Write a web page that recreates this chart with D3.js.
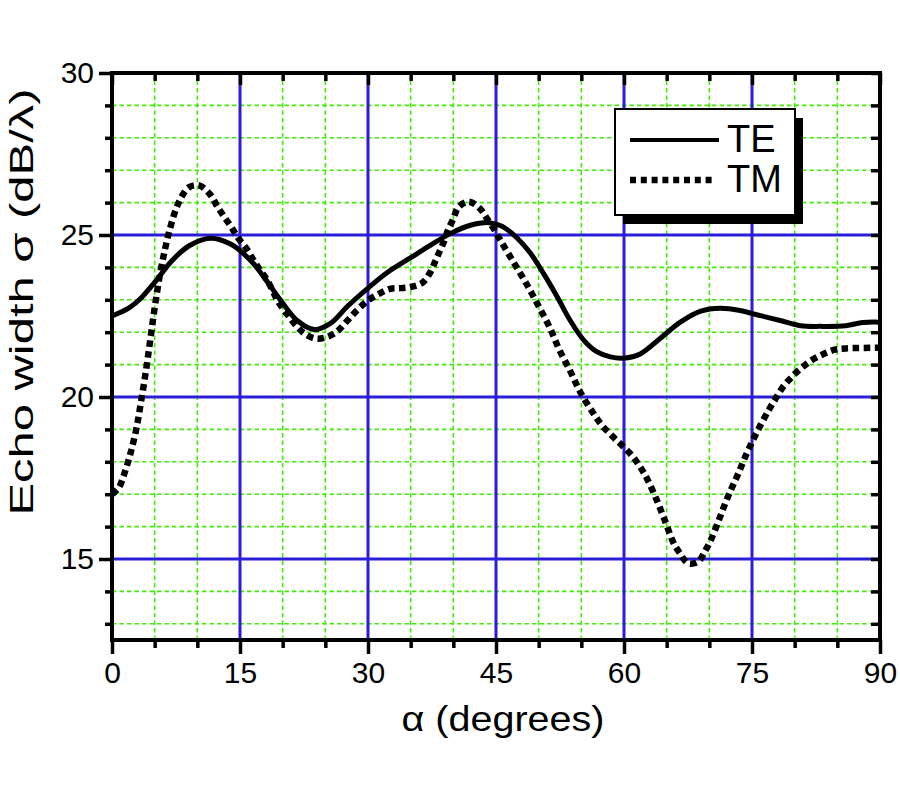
<!DOCTYPE html>
<html>
<head>
<meta charset="utf-8">
<script src="https://cdn.jsdelivr.net/npm/d3@7"></script>
<style>
  body { margin: 0; background: #fff; }
  text { font-family: "Liberation Sans", Arial, sans-serif; fill: #000; }
</style>
</head>
<body>
<div id="chart"></div>
<script>
// Data (alpha in degrees, sigma in dB/lambda)
const teAlpha = [0, 2, 3.2, 5, 7, 9, 11.5, 13.9, 16.3, 17.8, 19.8, 21.7, 23.7, 25.6, 27.6, 30, 32.3, 35, 37.3, 39.7, 42, 44.2, 45.7, 47.5, 49, 50.6, 52.2, 53.7, 55.3, 56.8, 58.4, 60, 61.9, 64.2, 66.6, 69, 71.3, 73.6, 76, 78.3, 80.7, 83, 86, 88, 90];
const teSigma = [22.5, 22.75, 23.0, 23.54, 24.2, 24.66, 24.9, 24.72, 24.2, 23.7, 22.97, 22.36, 22.08, 22.27, 22.8, 23.36, 23.85, 24.3, 24.68, 25.05, 25.3, 25.38, 25.27, 24.9, 24.45, 23.8, 23.08, 22.36, 21.75, 21.4, 21.24, 21.2, 21.33, 21.8, 22.31, 22.65, 22.74, 22.67, 22.51, 22.36, 22.2, 22.18, 22.2, 22.3, 22.31];

const tmAlpha = [0, 0.8, 1.4, 2.1, 2.8, 3.4, 4.0, 4.5, 5.0, 5.6, 6.2, 6.8, 7.5, 8.2, 9.0, 10.2, 11.5, 12.3, 13.1, 14.0, 14.8, 15.7, 16.5, 17.4, 18.2, 19.5, 20.4, 21.5, 22.6, 23.9, 25.2, 26.4, 27.6, 28.8, 30.1, 31.4, 32.6, 33.8, 35.1, 36.4, 37.3, 37.9, 38.4, 38.9, 39.4, 40, 40.6, 41.8, 43.1, 44, 44.8, 45.6, 47.1, 48.6, 50, 51.3, 52.4, 53.7, 54.9, 56.4, 57.4, 58.6, 59.8, 61, 61.9, 62.7, 63.8, 64.8, 65.8, 66.5, 67.5, 68.7, 69.5, 70.2, 71.2, 72.2, 73.3, 74.4, 75.6, 76.9, 77.7, 78.6, 79.6, 80.8, 82.2, 83.5, 84.7, 86, 90];
const tmSigma = [17.0, 17.2, 17.6, 18.2, 18.95, 19.85, 20.85, 21.8, 22.75, 23.75, 24.55, 25.2, 25.8, 26.2, 26.47, 26.53, 26.25, 25.9, 25.58, 25.24, 24.9, 24.6, 24.26, 23.9, 23.6, 22.93, 22.6, 22.23, 21.95, 21.8, 21.85, 22.03, 22.36, 22.7, 23.0, 23.2, 23.34, 23.36, 23.4, 23.53, 23.85, 24.2, 24.5, 24.8, 25.17, 25.5, 25.86, 26.03, 25.82, 25.48, 25.17, 24.8, 24.14, 23.48, 22.8, 22.14, 21.47, 20.8, 20.14, 19.5, 19.13, 18.8, 18.5, 18.17, 17.84, 17.48, 16.84, 16.18, 15.5, 15.2, 14.87, 14.92, 15.25, 15.6, 16.26, 16.94, 17.58, 18.27, 18.93, 19.57, 19.92, 20.3, 20.6, 20.9, 21.17, 21.34, 21.46, 21.5, 21.52];

const seriesNames = ["TE", "TM"];
const xMajorTicks = [0, 15, 30, 45, 60, 75, 90];
const yMajorTicks = [15, 20, 25, 30];

// SVG area and margins
const svgWidth = 900;
const svgHeight = 800;
const margin = { top: 73, right: 20, bottom: 160, left: 112 };
const chartWidth = svgWidth - margin.left - margin.right;
const chartHeight = svgHeight - margin.top - margin.bottom;

const gridGreen = "#44e80a";
const gridBlue = "#2a1fd6";

const svg = d3.select("#chart")
  .append("svg")
  .attr("width", svgWidth)
  .attr("height", svgHeight);

const chartGroup = svg.append("g")
  .attr("transform", `translate(${margin.left}, ${margin.top})`);

const xScale = d3.scaleLinear().domain([0, 90]).range([0, chartWidth]);
const yScale = d3.scaleLinear().domain([12.5, 30]).range([chartHeight, 0]);

const xMinor = d3.range(0, 91, 5);
const yMinor = d3.range(13, 31, 1);
const isMajorX = d => d % 15 === 0;
const isMajorY = d => d % 5 === 0;

// green dashed minor grid
chartGroup.append("g").selectAll("line")
  .data(xMinor.filter(d => !isMajorX(d)))
  .enter().append("line")
  .attr("x1", d => xScale(d)).attr("x2", d => xScale(d))
  .attr("y1", 0).attr("y2", chartHeight)
  .attr("stroke", gridGreen).attr("stroke-width", 1.6)
  .attr("stroke-dasharray", "4.5,3");

chartGroup.append("g").selectAll("line")
  .data(yMinor.filter(d => !isMajorY(d)))
  .enter().append("line")
  .attr("x1", 0).attr("x2", chartWidth)
  .attr("y1", d => yScale(d)).attr("y2", d => yScale(d))
  .attr("stroke", gridGreen).attr("stroke-width", 1.6)
  .attr("stroke-dasharray", "4.5,3");

// blue major grid
chartGroup.append("g").selectAll("line")
  .data(xMajorTicks.filter(d => d > 0 && d < 90))
  .enter().append("line")
  .attr("x1", d => xScale(d)).attr("x2", d => xScale(d))
  .attr("y1", 0).attr("y2", chartHeight)
  .attr("stroke", gridBlue).attr("stroke-width", 3);

chartGroup.append("g").selectAll("line")
  .data(yMajorTicks.filter(d => d < 30))
  .enter().append("line")
  .attr("x1", 0).attr("x2", chartWidth)
  .attr("y1", d => yScale(d)).attr("y2", d => yScale(d))
  .attr("stroke", gridBlue).attr("stroke-width", 3);

// axes: all four sides, minor ticks shorter than major
function styleAxis(g, majorTest, minorLen, majorLen, sign, horiz) {
  g.select(".domain").remove();
  g.selectAll(".tick line")
    .attr("stroke", "#000")
    .attr("stroke-width", 3.5)
    .attr(horiz ? "y2" : "x2", d => sign * (majorTest(d) ? majorLen : minorLen));
  g.selectAll(".tick text")
    .style("font-size", "30px")
    .style("font-family", "'Liberation Sans', Arial, sans-serif");
}

const bottomAxis = d3.axisBottom(xScale)
  .tickValues(xMinor)
  .tickFormat(d => isMajorX(d) ? d : "")
  .tickPadding(10);
chartGroup.append("g")
  .attr("transform", `translate(0, ${chartHeight})`)
  .call(bottomAxis)
  .call(g => styleAxis(g, isMajorX, 8, 14, 1, true))
  .selectAll(".tick text").attr("dy", "0.9em");

const topAxis = d3.axisTop(xScale).tickValues(xMinor).tickFormat("");
chartGroup.append("g")
  .call(topAxis)
  .call(g => styleAxis(g, isMajorX, 8, 12, 1, true));

const leftAxis = d3.axisLeft(yScale)
  .tickValues(yMinor)
  .tickFormat(d => isMajorY(d) ? d : "")
  .tickPadding(12);
chartGroup.append("g")
  .call(leftAxis)
  .call(g => styleAxis(g, isMajorY, 7, 13, -1, false));

const rightAxis = d3.axisRight(yScale).tickValues(yMinor).tickFormat("");
chartGroup.append("g")
  .attr("transform", `translate(${chartWidth}, 0)`)
  .call(rightAxis)
  .call(g => styleAxis(g, isMajorY, 9, 9, -1, false));

// plot frame
chartGroup.append("rect")
  .attr("width", chartWidth)
  .attr("height", chartHeight)
  .attr("fill", "none")
  .attr("stroke", "#000")
  .attr("stroke-width", 4);

// curves
const line = d3.line()
  .x(d => xScale(d[0]))
  .y(d => yScale(d[1]))
  .curve(d3.curveCatmullRom.alpha(0.5));

const teData = teAlpha.map((a, i) => [a, teSigma[i]]);
const tmData = tmAlpha.map((a, i) => [a, tmSigma[i]]);

chartGroup.append("path")
  .datum(tmData)
  .attr("d", line)
  .attr("fill", "none")
  .attr("stroke", "#000")
  .attr("stroke-width", 6.5)
  .attr("stroke-dasharray", "6.5,4.5");

chartGroup.append("path")
  .datum(teData)
  .attr("d", line)
  .attr("fill", "none")
  .attr("stroke", "#000")
  .attr("stroke-width", 5);

// legend with drop shadow
const legend = svg.append("g").attr("transform", "translate(615, 109)");
legend.append("rect")
  .attr("x", 8).attr("y", 9)
  .attr("width", 180).attr("height", 106)
  .attr("fill", "#000");
legend.append("rect")
  .attr("width", 180).attr("height", 106)
  .attr("fill", "#fff")
  .attr("stroke", "#000")
  .attr("stroke-width", 2);

seriesNames.forEach((name, i) => {
  const y = 31 + i * 40;
  legend.append("line")
    .attr("x1", 15).attr("x2", i === 0 ? 104 : 97)
    .attr("y1", y).attr("y2", y)
    .attr("stroke", "#000")
    .attr("stroke-width", i === 0 ? 4 : 6.5)
    .attr("stroke-dasharray", i === 0 ? null : "6,4.8");
  legend.append("text")
    .attr("x", 112).attr("y", y + 12)
    .style("font-size", "38px")
    .text(name);
});

// axis titles
svg.append("text")
  .attr("x", 503)
  .attr("y", 731)
  .attr("text-anchor", "middle")
  .attr("textLength", 203)
  .attr("lengthAdjust", "spacingAndGlyphs")
  .style("font-size", "35px")
  .text("α (degrees)");

svg.append("text")
  .attr("transform", "translate(33, 302) rotate(-90)")
  .attr("text-anchor", "middle")
  .attr("textLength", 427)
  .attr("lengthAdjust", "spacingAndGlyphs")
  .style("font-size", "34px")
  .text("Echo width σ (dB/λ)");
</script>
</body>
</html>
